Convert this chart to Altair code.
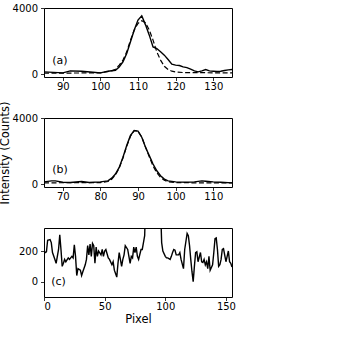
import altair as alt
import pandas as pd

# Panel (a): measured profile and fitted curve
a_x = [85, 90, 92, 95, 98, 100, 102, 104, 105, 106, 107, 108, 109, 110, 111, 112, 113, 114,
       115, 116, 117, 118, 119, 120, 121, 122, 123, 124, 125, 126, 127, 128, 129, 130, 131,
       132, 133, 134, 135]
a_y = [140, 80, 200, 180, 120, 80, 180, 240, 440, 750, 1250, 1960, 2670, 3270, 3530, 2980,
       2360, 1650, 1550, 1350, 1150, 890, 610, 550, 525, 440, 400, 300, 200, 140, 200, 280,
       200, 180, 160, 180, 220, 260, 280]
a_fit_x = [85, 100, 103, 104, 105, 106, 107, 108, 109, 110, 111, 112, 113, 114, 115, 116, 117,
           118, 119, 120, 122, 125, 130, 135]
a_fit_y = [60, 80, 200, 300, 550, 850, 1350, 2060, 2670, 3070, 3230, 3110, 2670, 2060, 1350,
           850, 480, 280, 180, 140, 100, 100, 80, 80]

# Panel (b): measured profile and fitted curve
b_x = [65, 67, 68, 70, 72, 75, 77, 80, 82, 83, 84, 85, 86, 87, 88, 89, 90, 91, 92, 93, 94, 95,
       96, 97, 98, 100, 103, 105, 107, 108, 110, 112, 115]
b_y = [140, 200, 200, 120, 100, 160, 100, 140, 200, 365, 610, 1015, 1625, 2335, 2945, 3250,
       3210, 2840, 2235, 1725, 1220, 810, 510, 305, 200, 140, 120, 140, 200, 180, 140, 120, 80]
b_fit_x = [65, 80, 82, 83, 84, 85, 86, 87, 88, 89, 90, 91, 92, 93, 94, 95, 96, 97, 98, 100,
           105, 115]
b_fit_y = [80, 100, 160, 300, 560, 970, 1580, 2290, 2900, 3230, 3200, 2850, 2250, 1650, 1100,
           690, 410, 240, 150, 100, 80, 80]

# Panel (c): full row profile, zoomed on the background level
c_x = [0, 1, 2, 3, 5, 6, 7, 9, 10, 12, 13, 14, 15, 16, 17, 18, 20, 21, 23, 24, 25, 26, 27, 28,
       30, 31, 32, 34, 35, 36, 37, 38, 39, 40, 41, 42, 43, 44, 45, 47, 48, 49, 50, 51, 53, 54,
       56, 57, 58, 60, 61, 62, 63, 64, 65, 66, 67, 69, 70, 71, 72, 73, 74, 75, 76, 77, 78, 80,
       81, 82, 83, 84, 85, 86, 87, 88, 89, 90, 91, 92, 93, 94, 95, 96, 97, 98, 100, 101, 102,
       104, 105, 106, 107, 108, 109, 111, 112, 113, 115, 116, 118, 119, 120, 121, 122, 123, 124,
       125, 126, 127, 129, 130, 131, 132, 133, 134, 135, 136, 137, 139, 140, 141, 142, 143, 144,
       145, 146, 147, 148, 150, 151, 152, 153, 154, 155]
c_y = [200, 190, 195, 270, 275, 255, 190, 145, 120, 210, 305, 210, 100, 120, 145, 130, 155, 145,
       165, 155, 240, 165, 40, 85, 75, 40, 65, 110, 145, 235, 175, 245, 165, 250, 235, 120, 225,
       165, 200, 175, 210, 165, 200, 210, 155, 145, 110, 130, 75, 30, 120, 190, 145, 100, 145,
       175, 235, 210, 165, 120, 165, 155, 225, 190, 225, 165, 145, 210, 210, 255, 300, 600,
       1015, 1625, 2335, 2945, 3250, 3210, 2840, 2235, 1725, 1220, 810, 510, 255, 200, 165, 155,
       155, 145, 165, 190, 210, 205, 175, 175, 190, 145, 85, 210, 315, 300, 235, 145, 65, 0,
       100, 190, 195, 130, 190, 130, 125, 145, 110, 130, 85, 165, 75, 110, 190, 280, 285, 210,
       100, 110, 145, 210, 215, 130, 165, 200, 130, 120, 95]

panel_labels = ["(a)", "(b)", "(c)"]
label_x = [87.2, 67.2, 6.0]
label_y = [790, 850, 0]

W, H = 188, 69
FONT = "DejaVu Sans"


def profile_panel(xs, ys, fit_xs, fit_ys, xdom, ydom, xticks, yticks, idx,
                  xtitle=None, ytitle=None):
    x_axis = alt.Axis(values=xticks, title=xtitle, labelPadding=1, format="d")
    y_kwargs = dict(values=yticks, labelPadding=3, format="d")
    if ytitle:
        y_kwargs.update(title=ytitle, titleX=-34, titleY=H / 2)
    else:
        y_kwargs.update(title=None)
    y_axis = alt.Axis(**y_kwargs)
    xs_enc = alt.X("x:Q", scale=alt.Scale(domain=xdom, nice=False, zero=False), axis=x_axis)
    ys_enc = alt.Y("y:Q", scale=alt.Scale(domain=ydom, nice=False, zero=False), axis=y_axis)

    layers = [
        alt.Chart(pd.DataFrame({"x": xs, "y": ys}))
        .mark_line(color="black", strokeWidth=1.4, clip=True)
        .encode(x=xs_enc, y=ys_enc)
    ]
    if fit_xs is not None:
        layers.append(
            alt.Chart(pd.DataFrame({"x": fit_xs, "y": fit_ys}))
            .mark_line(color="black", strokeWidth=1.2, strokeDash=[5, 2.5], clip=True)
            .encode(x="x:Q", y="y:Q")
        )
    layers.append(
        alt.Chart(pd.DataFrame({"x": [label_x[idx]], "y": [label_y[idx]],
                                "t": [panel_labels[idx]]}))
        .mark_text(align="left", baseline="middle", fontSize=11, font=FONT, color="black")
        .encode(x="x:Q", y="y:Q", text="t:N")
    )
    return alt.layer(*layers).properties(width=W, height=H)


pa = profile_panel(a_x, a_y, a_fit_x, a_fit_y, [85, 135], [-170, 4000],
                   [90, 100, 110, 120, 130], [0, 2000, 4000], 0)
pb = profile_panel(b_x, b_y, b_fit_x, b_fit_y, [65, 115], [-170, 4000],
                   [70, 80, 90, 100, 110], [0, 2000, 4000], 1, ytitle="Intensity (Counts)")
pc = profile_panel(c_x, c_y, None, None, [0, 155], [-100, 350],
                   [0, 50, 100, 150], [0, 200], 2, xtitle="Pixel")

chart = (
    alt.vconcat(pa, pb, pc, spacing=41, bounds="flush")
    .properties(padding={"left": -2, "top": 2, "right": 5, "bottom": 5}, background="white")
    .configure_view(stroke="black", strokeWidth=1)
    .configure_axis(
        grid=False, domain=False, tickColor="black", tickSize=3.5, tickWidth=0.8,
        labelFont=FONT, labelFontSize=10, labelColor="black",
        titleFont=FONT, titleFontSize=11.5, titleFontWeight="normal", titleColor="black",
        titlePadding=2,
    )
)

chart.save("out.html", embed_options={"renderer": "svg", "actions": False})
